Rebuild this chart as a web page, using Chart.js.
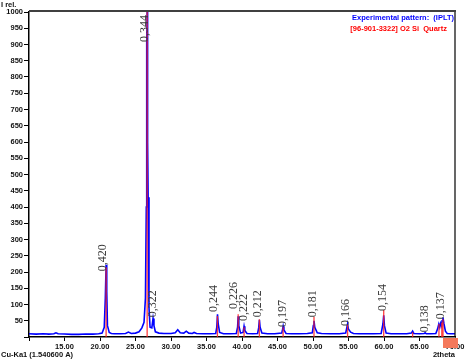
<!DOCTYPE html>
<html>
<head>
<meta charset="utf-8">
<script src="https://cdn.jsdelivr.net/npm/chart.js@4"></script>
<style>
  body { margin: 0; background: #fff; }
  #wrap { width: 472px; height: 362px; position: relative; }
</style>
</head>
<body>
<div id="wrap"><canvas id="xrdChart"></canvas></div>
<script>
// measured pattern (2theta, relative intensity)
const twoTheta = [10.0, 11.0, 12.0, 12.8, 13.5, 13.8, 14.1, 15.0, 16.0, 17.0, 18.0, 19.0, 19.8, 20.3, 20.6, 20.75, 20.86, 20.95, 21.05, 21.3, 21.6, 22.0, 22.8, 23.6, 24.0, 24.4, 25.0, 25.5, 25.9, 26.2, 26.4, 26.52, 26.58, 26.64, 26.69, 26.72, 26.78, 26.9, 27.05, 27.3, 27.47, 27.6, 27.8, 28.3, 29.0, 30.0, 30.6, 30.95, 31.3, 31.8, 32.15, 32.5, 33.0, 33.25, 33.6, 34.5, 35.5, 36.3, 36.45, 36.55, 36.65, 36.85, 37.4, 38.3, 39.2, 39.38, 39.46, 39.55, 39.8, 40.15, 40.29, 40.4, 40.7, 41.5, 42.2, 42.35, 42.45, 42.55, 42.8, 43.6, 44.6, 45.6, 45.72, 45.8, 45.9, 46.2, 47.0, 48.0, 49.2, 49.9, 50.05, 50.14, 50.25, 50.6, 51.2, 52.5, 53.7, 54.6, 54.78, 54.87, 54.98, 55.3, 55.7, 56.5, 57.5, 58.5, 59.6, 59.85, 59.96, 60.06, 60.3, 61.0, 62.0, 63.2, 63.85, 64.03, 64.2, 65.0, 65.65, 65.8, 65.95, 66.6, 67.3, 67.55, 67.72, 67.85, 67.98, 68.1, 68.18, 68.3, 68.45, 68.65, 68.9, 69.4, 70.0];
const intensity = [10, 9, 10, 9, 10, 13, 10, 9, 8, 8, 9, 9, 10, 12, 30, 120, 222, 140, 35, 14, 11, 10, 10, 11, 15, 11, 12, 16, 28, 45, 120, 400, 900, 1000, 980, 600, 430, 90, 30, 28, 57, 35, 16, 12, 11, 11, 13, 22, 13, 12, 18, 12, 11, 14, 11, 10, 10, 11, 30, 70, 40, 14, 10, 10, 11, 30, 64, 35, 12, 14, 33, 20, 11, 10, 11, 28, 53, 30, 12, 10, 10, 12, 24, 33, 22, 11, 10, 10, 11, 13, 35, 50, 30, 13, 11, 10, 10, 12, 30, 40, 25, 15, 11, 10, 10, 10, 11, 40, 67, 35, 12, 10, 10, 10, 12, 18, 11, 10, 11, 13, 10, 10, 11, 25, 40, 30, 42, 35, 50, 60, 40, 18, 11, 10, 10];

// reference card 96-901-3322 (quartz) stick positions and heights
const refPos = [20.86, 26.64, 36.54, 39.46, 40.29, 42.45, 45.79, 50.14, 54.87, 59.96, 64.03, 67.74, 68.14, 68.31];
const refInt = [215, 1000, 65, 70, 30, 55, 30, 62, 38, 83, 15, 40, 45, 55];

// d-spacing labels: text, centre (2theta), start height
const dLabels = ['0,420', '0,344', '0,322', '0,244', '0,226', '0,222', '0,212', '0,197', '0,181', '0,166', '0,154', '0,138', '0,137'];
const dLabelX = [20.4, 26.37, 27.42, 36.0, 38.83, 40.24, 42.2, 45.7, 50.0, 54.65, 59.8, 65.7, 67.95];
const dLabelY = [202, 908, 61, 77, 86, 49, 61, 31, 61, 34, 80, 15, 55];

const xTicks = [10, 15, 20, 25, 30, 35, 40, 45, 50, 55, 60, 65, 70];

const patternPoints = twoTheta.map((t, i) => ({ x: t, y: intensity[i] }));
const stickPoints = [];
refPos.forEach((p, i) => {
    stickPoints.push({ x: p, y: 0 }, { x: p, y: refInt[i] }, { x: p, y: null });
});

const tickFont = { family: 'Arial, "Liberation Sans"', size: 7.5, weight: 'bold' };

// labels, frame and captions drawn on top
const extras = {
    id: 'extras',
    afterDatasetsDraw(chart) {
        const ctx = chart.ctx;
        const area = chart.chartArea;
        const xs = chart.scales.x, ys = chart.scales.y;

        ctx.save();
        ctx.fillStyle = '#3a3a3a';
        ctx.font = '12px "Liberation Serif", "Times New Roman", serif';
        ctx.textAlign = 'left';
        ctx.textBaseline = 'middle';
        dLabels.forEach((txt, i) => {
            ctx.save();
            ctx.translate(xs.getPixelForValue(dLabelX[i]), ys.getPixelForValue(dLabelY[i]));
            ctx.rotate(-Math.PI / 2);
            ctx.fillText(txt, 0, 0);
            ctx.restore();
        });

        // top and right frame
        ctx.strokeStyle = '#404040';
        ctx.lineWidth = 2;
        ctx.beginPath();
        ctx.moveTo(area.left, area.top - 1);
        ctx.lineTo(area.right + 1, area.top - 1);
        ctx.stroke();
        ctx.strokeStyle = '#000';
        ctx.lineWidth = 1.2;
        ctx.beginPath();
        ctx.moveTo(area.right, area.top);
        ctx.lineTo(area.right, area.bottom);
        ctx.stroke();

        // legend text
        ctx.font = 'bold 7.5px Arial, "Liberation Sans"';
        ctx.textAlign = 'right';
        ctx.fillStyle = '#0000ff';
        ctx.fillText('Experimental pattern:  (IPLT)', area.right - 1, 18);
        ctx.fillStyle = '#ff0000';
        ctx.fillText('[96-901-3322] O2 Si  Quartz', area.right - 8, 29);

        // axis captions
        ctx.fillStyle = '#111';
        ctx.textAlign = 'left';
        ctx.fillText('I rel.', 1, 5);
        ctx.fillText('Cu-Ka1 (1.540600 A)', 1, 355);
        ctx.textAlign = 'right';
        ctx.fillText('2theta', area.right, 355);

        // marker box at the end of the x axis
        ctx.fillStyle = '#f4795b';
        ctx.fillRect(443, 338, 15, 10);
        ctx.restore();
    }
};

new Chart(document.getElementById('xrdChart'), {
    type: 'line',
    data: {
        datasets: [{
            label: '[96-901-3322] O2 Si Quartz',
            data: stickPoints,
            borderColor: 'rgba(255, 30, 30, 0.85)',
            borderWidth: 1.3,
            pointRadius: 0,
            spanGaps: false
        }, {
            label: 'Experimental pattern: (IPLT)',
            data: patternPoints,
            borderColor: '#0000ff',
            borderWidth: 1.6,
            pointRadius: 0,
            tension: 0
        }]
    },
    options: {
        responsive: true,
        maintainAspectRatio: false,
        animation: false,
        layout: { padding: { top: 12, right: 17, left: 0, bottom: 0 } },
        plugins: { legend: { display: false }, tooltip: { enabled: false } },
        scales: {
            x: {
                type: 'linear',
                min: 10,
                max: 70,
                afterBuildTicks: s => { s.ticks = xTicks.map(v => ({ value: v })); },
                afterFit: s => { s.height = 25; },
                ticks: {
                    callback: v => v === 10 ? '' : v.toFixed(2),
                    font: tickFont,
                    color: '#111',
                    maxRotation: 0,
                    autoSkip: false,
                    padding: 1
                },
                grid: { drawOnChartArea: false, tickLength: 4, color: '#000' },
                border: { color: '#000', width: 1.5 }
            },
            y: {
                min: 0,
                max: 1000,
                afterFit: s => { s.width = 29; },
                ticks: {
                    stepSize: 50,
                    callback: v => v === 0 ? '' : v,
                    font: tickFont,
                    color: '#111',
                    padding: 1
                },
                grid: { drawOnChartArea: false, tickLength: 5, color: '#000' },
                border: { color: '#000', width: 1.5 }
            }
        }
    },
    plugins: [extras]
});
</script>
</body>
</html>
